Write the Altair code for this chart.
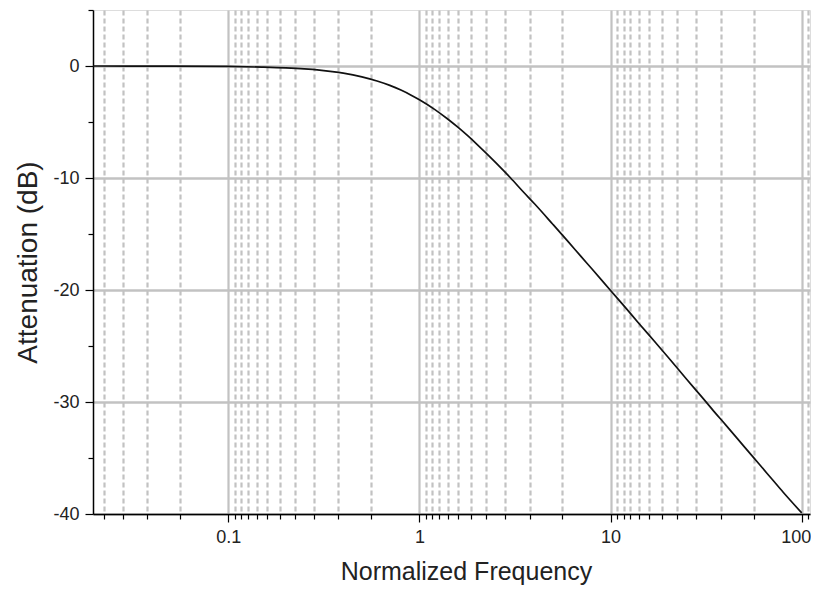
import altair as alt
import pandas as pd

# Curve values
freq = [0.0196, 0.05, 0.1, 0.15, 0.2, 0.25, 0.3, 0.35, 0.4, 0.5, 0.6, 0.7, 0.8, 0.9, 1.0,
        1.2, 1.4, 1.6, 1.8, 2.0, 2.5, 3.0, 3.5, 4.0, 5.0, 6.0, 7.0, 8.0, 10.0, 12.0, 14.0,
        17.0, 20.0, 25.0, 30.0, 35.0, 40.0, 50.0, 60.0, 70.0, 80.0, 100.0]
atten = [0.0, -0.01, -0.04, -0.10, -0.17, -0.26, -0.37, -0.50, -0.64, -0.97, -1.34, -1.73,
         -2.15, -2.58, -3.01, -3.87, -4.71, -5.51, -6.27, -6.99, -8.60, -10.0, -11.25,
         -12.30, -14.15, -15.68, -17.0, -18.13, -20.04, -21.6, -22.94, -24.6, -26.0,
         -27.97, -29.54, -30.9, -32.04, -33.98, -35.56, -36.9, -38.06, -39.9]

# Axis ticks / grid positions
x_major = [0.1, 1, 10, 100]
x_minor = [0.0223, 0.028, 0.0377, 0.056,
           0.108, 0.117, 0.127, 0.141, 0.159, 0.186, 0.223, 0.28, 0.377, 0.56,
           1.08, 1.17, 1.27, 1.41, 1.59, 1.86, 2.23, 2.8, 3.77, 5.6,
           10.8, 11.7, 12.7, 14.1, 15.9, 18.6, 22.3, 28, 37.7, 56,
           108]
y_ticks = [5, 0, -5, -10, -15, -20, -25, -30, -35, -40]
x_domain = [0.0196, 110.5]
y_domain = [-40, 5]

df = pd.DataFrame({"f": freq, "a": atten})

FONT = "Liberation Sans"
GRID = "#c2c2c2"

x_major_test = "indexof([0.1,1,10,100], datum.value) >= 0"
y_major_test = "datum.value % 10 == 0 && datum.value <= 0"

x_axis = alt.Axis(
    values=sorted(x_major + x_minor),
    title="Normalized Frequency",
    labelExpr=f"({x_major_test}) ? ('' + datum.value) : ''",
    labelFont=FONT, labelFontSize=18, labelColor="#222222", labelPadding=6,
    labelFlush=False, labelOverlap=False,
    labelOffset={"condition": {"test": "datum.value == 100", "value": -6}, "value": 0},
    titleFont=FONT, titleFontSize=25, titleFontWeight="normal", titleColor="#222222",
    titleX=373, titleY=57, titleBaseline="middle", titleAlign="center",
    domainColor="#000000", domainWidth=1.5,
    tickColor="#000000", tickWidth=1.2,
    tickSize={"condition": {"test": x_major_test, "value": 8}, "value": 5},
    grid=True, gridColor=GRID,
    gridWidth=2.2,
    gridDash={"condition": {"test": x_major_test, "value": []}, "value": [5, 3]},
)

y_axis = alt.Axis(
    values=y_ticks,
    title="Attenuation (dB)",
    labelExpr=f"({y_major_test}) ? ('' + datum.value) : ''",
    labelFont=FONT, labelFontSize=18, labelColor="#222222", labelPadding=6,
    labelFlush=False, labelOverlap=False,
    titleFont=FONT, titleFontSize=28, titleFontWeight="normal", titleColor="#222222",
    titleX=-65, titleY=252, titleBaseline="middle", titleAlign="center", titleAngle=270,
    domainColor="#000000", domainWidth=1.5,
    tickColor="#000000", tickWidth=1.2,
    tickSize={"condition": {"test": y_major_test, "value": 8}, "value": 5},
    grid=True, gridColor=GRID, gridWidth=2.5,
    gridOpacity={"condition": {"test": y_major_test, "value": 1}, "value": 0},
)

chart = alt.Chart(df).mark_line(color="#111111", strokeWidth=1.7, interpolate="monotone", clip=True).encode(
    x=alt.X("f:Q", scale=alt.Scale(type="log", domain=x_domain, nice=False), axis=x_axis),
    y=alt.Y("a:Q", scale=alt.Scale(domain=y_domain, nice=False, zero=False), axis=y_axis),
).properties(
    width=717, height=504,
    autosize=alt.AutoSizeParams(type="none"),
    padding={"left": 85, "top": 2, "right": 1, "bottom": 72},
).configure_view(stroke=None).configure(background="white")

chart.save("out.html", embed_options={"renderer": "svg", "actions": False})
